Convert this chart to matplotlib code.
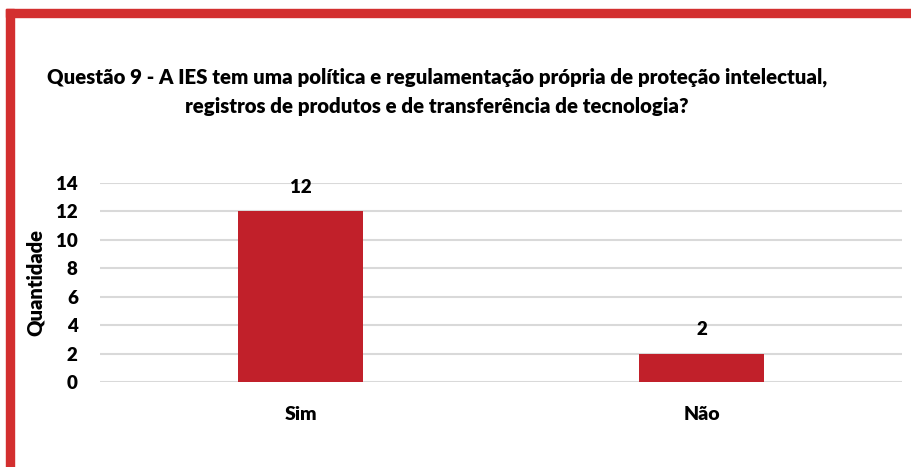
import matplotlib.pyplot as plt
from matplotlib.patches import Rectangle

# data
categorias = ['Sim', 'Não']
quantidade = [12, 2]
yticks = [0, 2, 4, 6, 8, 10, 12, 14]
titulo = ('Questão 9 - A IES tem uma política e regulamentação própria de proteção intelectual,\n'
          'registros de produtos e de transferência de tecnologia?')

plt.rcParams['font.family'] = ['Lato', 'DejaVu Sans']
plt.rcParams['font.weight'] = 'heavy'

W, H = 911, 467
fig = plt.figure(figsize=(W / 100, H / 100), dpi=100)
ax = fig.add_axes([100 / W, 1 - 382 / H, 802 / W, 199 / H])

x = range(len(categorias))
bars = ax.bar(x, quantidade, width=0.31, color='#C1202A', zorder=3)
for b, v in zip(bars, quantidade):
    ax.annotate(str(v), (b.get_x() + b.get_width() / 2, v), xytext=(0, 11),
                textcoords='offset points', ha='center', va='bottom',
                fontsize=13.5, fontweight='heavy')

ax.set_xlim(-0.5, len(categorias) - 0.5)
ax.set_ylim(0, 14)
ax.set_yticks(yticks)
ax.set_xticks(list(x))
ax.set_xticklabels(categorias)
ax.tick_params(axis='y', length=0, labelsize=13.5, pad=16)
ax.tick_params(axis='x', length=0, labelsize=14, pad=17)
for lab in ax.get_xticklabels() + ax.get_yticklabels():
    lab.set_fontweight('heavy')
ax.grid(axis='y', color='#D9D9D9', linewidth=1.5, zorder=0)
for s in ax.spines.values():
    s.set_visible(False)
ax.set_ylabel('Quantidade', fontsize=14.5, fontweight='heavy', labelpad=8)

fig.text(437 / W, 1 - 92 / H, titulo, ha='center', va='center', fontsize=14.7,
         fontweight='heavy', linespacing=1.62)

# red frame (top and left)
red = '#D32F2F'
fig.add_artist(Rectangle((6 / W, 0), 8 / W, 1 - 9 / H, transform=fig.transFigure,
                         color=red, zorder=10))
fig.add_artist(Rectangle((6 / W, 1 - 17 / H), 1, 8 / H, transform=fig.transFigure,
                         color=red, zorder=10))

fig.savefig('out.png', dpi=100)
